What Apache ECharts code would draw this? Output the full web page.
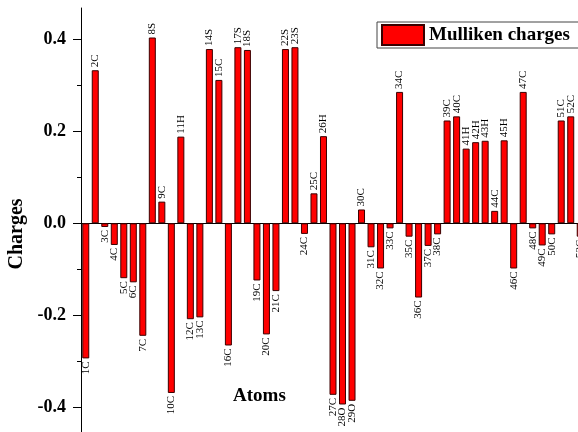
<!DOCTYPE html>
<html>
<head>
<meta charset="utf-8">
<script src="https://cdn.jsdelivr.net/npm/echarts@6/dist/echarts.min.js"></script>
<style>
  html, body { margin: 0; padding: 0; background: #fff; overflow: hidden; }
  /* the original figure was cropped on the right and bottom, so the chart runs past the window */
  #main { width: 585px; height: 440px; }
</style>
</head>
<body>
<div id="main"></div>
<script>
var atoms = ['1C','2C','3C','4C','5C','6C','7C','8S','9C','10C',
  '11H','12C','13C','14S','15C','16C','17S','18S','19C','20C',
  '21C','22S','23S','24C','25C','26H','27C','28O','29O','30C',
  '31C','32C','33C','34C','35C','36C','37C','38C','39C','40C',
  '41H','42H','43H','44C','45H','46C','47C','48C','49C','50C',
  '51C','52C','53C'];

var charges = [-0.293, 0.332, -0.008, -0.047, -0.119, -0.128, -0.244, 0.403, 0.047, -0.368,
  0.188, -0.208, -0.204, 0.378, 0.311, -0.265, 0.382, 0.376, -0.124, -0.241,
  -0.147, 0.378, 0.382, -0.023, 0.065, 0.189, -0.372, -0.393, -0.385, 0.030,
  -0.052, -0.098, -0.011, 0.285, -0.029, -0.161, -0.049, -0.024, 0.223, 0.232,
  0.162, 0.176, 0.179, 0.027, 0.180, -0.098, 0.285, -0.011, -0.048, -0.024,
  0.223, 0.232, -0.029];

var majorTicks = [-0.4, -0.2, 0, 0.2, 0.4];
var minorTicks = [-0.3, -0.1, 0.1, 0.3];

var serif = 'Liberation Serif';

var chart = echarts.init(document.getElementById('main'));

// each bar gets its name written past its end, upward or downward
var barData = charges.map(function (v) {
    return {
        value: v,
        label: v >= 0
            ? { position: 'top', align: 'left', verticalAlign: 'middle' }
            : { position: 'bottom', align: 'right', verticalAlign: 'middle' }
    };
});

chart.setOption({
    animation: false,
    backgroundColor: '#fff',
    grid: { left: 81, right: 0, top: 8, bottom: 0 },
    legend: {
        left: 377, top: 22,
        padding: [2, 40, 2, 4],
        borderColor: '#444', borderWidth: 1,
        icon: 'rect',
        itemWidth: 42, itemHeight: 20,
        textStyle: { fontFamily: serif, fontWeight: 'bold', fontSize: 19, color: '#000' },
        data: ['Mulliken charges']
    },
    xAxis: {
        type: 'category',
        data: atoms,
        axisLine: { onZero: true, lineStyle: { color: '#000', width: 1 } },
        axisTick: { alignWithLabel: true, length: 5, lineStyle: { color: '#000' } },
        axisLabel: { show: false },
        splitLine: { show: false }
    },
    yAxis: [{
        type: 'value',
        min: -0.47, max: 0.467,
        axisLine: { show: true, lineStyle: { color: '#000', width: 1 } },
        axisTick: { show: true, length: 8, customValues: majorTicks, lineStyle: { color: '#000' } },
        axisLabel: {
            customValues: majorTicks,
            margin: 15,
            fontFamily: serif, fontWeight: 'bold', fontSize: 18, color: '#000',
            formatter: function (v) { return v.toFixed(1); }
        },
        splitLine: { show: false }
    }, {
        type: 'value',
        min: -0.47, max: 0.467,
        position: 'left',
        axisLine: { show: false },
        axisTick: { show: true, length: 4, customValues: minorTicks, lineStyle: { color: '#000' } },
        axisLabel: { show: false },
        splitLine: { show: false }
    }],
    graphic: [{
        type: 'text',
        x: 17, y: 234,
        rotation: Math.PI / 2,
        style: {
            text: 'Charges', fontFamily: serif, fontWeight: 'bold', fontSize: 20, fill: '#000',
            align: 'center', verticalAlign: 'middle'
        }
    }, {
        type: 'text',
        left: 233, top: 387,
        style: { text: 'Atoms', fontFamily: serif, fontWeight: 'bold', fontSize: 19, fill: '#000' }
    }],
    series: [{
        name: 'Mulliken charges',
        type: 'bar',
        yAxisIndex: 0,
        barWidth: 7,
        data: barData,
        itemStyle: { color: '#ff0000', borderColor: '#3a0000', borderWidth: 1 },
        label: {
            show: true,
            formatter: '{b}',
            rotate: 90,
            distance: 3,
            fontFamily: serif, fontSize: 11, color: '#000'
        }
    }]
});
</script>
</body>
</html>
